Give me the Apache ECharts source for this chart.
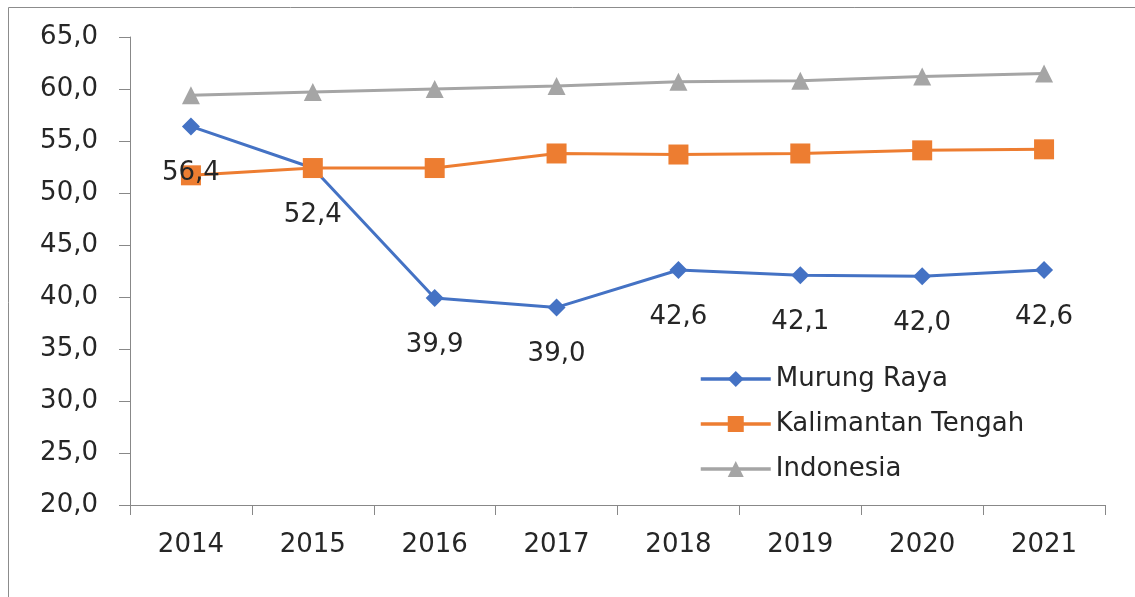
<!DOCTYPE html>
<html>
<head>
<meta charset="utf-8">
<script src="https://cdn.jsdelivr.net/npm/echarts@6/dist/echarts.min.js"></script>
<style>html,body{margin:0;padding:0;background:#fff}#c{width:1135px;height:597px}</style>
</head>
<body>
<div id="c"></div>
<script>
const years = ['2014','2015','2016','2017','2018','2019','2020','2021'];
const murungRaya = [56.4, 52.4, 39.9, 39.0, 42.6, 42.1, 42.0, 42.6];
const kalimantanTengah = [51.7, 52.4, 52.4, 53.8, 53.7, 53.8, 54.1, 54.2];
const indonesia = [59.4, 59.7, 60.0, 60.3, 60.7, 60.8, 61.2, 61.5];

const fmt = v => Number(v).toFixed(1).replace('.', ',');
const FONT = '"DejaVu Sans", sans-serif';
const TXT = '#262626';
const FS = 26;
const chart = echarts.init(document.getElementById('c'), null, {renderer: 'canvas'});
chart.setOption({
  animation: false,
  backgroundColor: '#fff',
  graphic: [{
    type: 'polyline', silent: true,
    shape: {points: [[8.5, 700], [8.5, 7.5], [1300, 7.5]]},
    style: {fill: null, stroke: '#8c8c8c', lineWidth: 1}
  }],
  grid: {left: 130, right: 30, top: 37, bottom: 92},
  legend: {
    orient: 'vertical', left: 699, top: 366, itemGap: 19, padding: 0,
    itemWidth: 70, itemHeight: 20,
    lineStyle: {width: 3.5},
    textStyle: {fontFamily: FONT, fontSize: FS, color: TXT},
    data: ['Murung Raya', 'Kalimantan Tengah', 'Indonesia']
  },
  xAxis: {
    type: 'category', data: years, boundaryGap: true,
    axisLine: {lineStyle: {color: '#888', width: 1}},
    axisTick: {show: true, length: 10, lineStyle: {color: '#888'}},
    axisLabel: {fontFamily: FONT, fontSize: FS, color: TXT, margin: 27}
  },
  yAxis: {
    type: 'value', min: 20, max: 65, interval: 5,
    axisLine: {show: true, lineStyle: {color: '#888', width: 1}},
    axisTick: {show: true, length: 11, lineStyle: {color: '#888'}},
    splitLine: {show: false},
    axisLabel: {fontFamily: FONT, fontSize: FS, color: TXT, margin: 32, formatter: fmt}
  },
  series: [
    {
      name: 'Murung Raya', type: 'line', data: murungRaya,
      symbol: 'diamond', symbolSize: 18,
      lineStyle: {color: '#4472c4', width: 3},
      itemStyle: {color: '#4472c4'},
      label: {show: true, position: 'bottom', distance: 25, formatter: p => fmt(p.value),
        fontFamily: FONT, fontSize: FS, color: TXT},
      z: 2
    },
    {
      name: 'Kalimantan Tengah', type: 'line', data: kalimantanTengah,
      symbol: 'rect', symbolSize: 20,
      lineStyle: {color: '#ed7d31', width: 3},
      itemStyle: {color: '#ed7d31'},
      z: 2
    },
    {
      name: 'Indonesia', type: 'line', data: indonesia,
      symbol: 'triangle', symbolSize: 18,
      lineStyle: {color: '#a5a5a5', width: 3},
      itemStyle: {color: '#a5a5a5'},
      z: 2
    }
  ]
});
</script>
</body>
</html>
